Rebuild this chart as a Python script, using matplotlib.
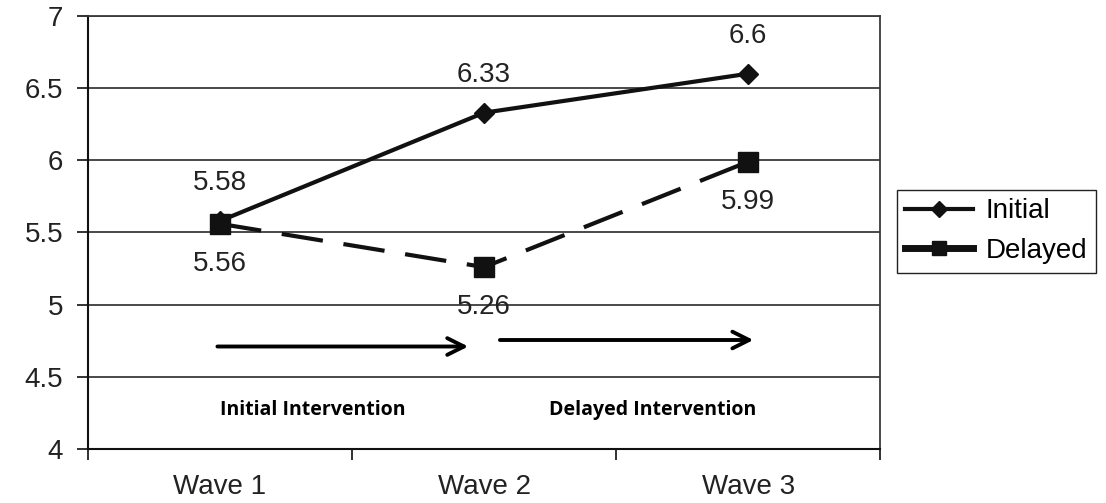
import matplotlib.pyplot as plt
from matplotlib.lines import Line2D

# Chart data
waves = ["Wave 1", "Wave 2", "Wave 3"]
initial = [5.58, 6.33, 6.6]
delayed = [5.56, 5.26, 5.99]
y_ticks = [4, 4.5, 5, 5.5, 6, 6.5, 7]
y_tick_labels = ["4", "4.5", "5", "5.5", "6", "6.5", "7"]
phase_labels = ["Initial Intervention", "Delayed Intervention"]

plt.rcParams['font.family'] = ['Liberation Sans', 'DejaVu Sans']

fig = plt.figure(figsize=(11.06, 5.03), dpi=100)
ax = fig.add_axes([0.0796, 0.1074, 0.7162, 0.8608])

x = list(range(len(waves)))

# Horizontal gridlines
ax.set_ylim(4, 7)
ax.set_xlim(-0.5, 2.5)
ax.set_yticks(y_ticks)
ax.set_yticklabels(y_tick_labels)
ax.yaxis.grid(True, color='#3a3a3a', linewidth=1.3)
ax.set_axisbelow(True)

# Lines
ax.plot(x, initial, color='#111111', linewidth=3, marker='D', markersize=10,
        label='Initial', zorder=3)
ax.plot(x, delayed, color='#111111', linewidth=3, linestyle=(0, (10, 5)),
        marker='s', markersize=14, label='Delayed', zorder=4)

# Value labels
for xi, v in zip(x, initial):
    ax.annotate(f"{v:g}", (xi, v), xytext=(0, 27), textcoords='offset points',
                ha='center', va='center', fontsize=20, color='#222222')
for xi, v in zip(x, delayed):
    ax.annotate(f"{v:g}", (xi, v), xytext=(0, -29), textcoords='offset points',
                ha='center', va='center', fontsize=20, color='#222222')

# Intervention arrows
ax.annotate("", xy=(0.94, 4.71), xytext=(-0.01, 4.71),
            arrowprops=dict(arrowstyle='->', color='black', lw=2.8,
                            mutation_scale=30, shrinkA=0, shrinkB=0))
ax.annotate("", xy=(2.02, 4.755), xytext=(1.06, 4.755),
            arrowprops=dict(arrowstyle='->', color='black', lw=2.8,
                            mutation_scale=30, shrinkA=0, shrinkB=0))
ax.text(0.35, 4.27, phase_labels[0], ha='center', va='center', fontsize=14,
        fontweight='bold', family=['Open Sans', 'DejaVu Sans'])
ax.text(1.64, 4.27, phase_labels[1], ha='center', va='center', fontsize=14,
        fontweight='bold', family=['Open Sans', 'DejaVu Sans'])

# Axes styling
ax.set_xticks([-0.5, 0.5, 1.5, 2.5])
ax.set_xticklabels([])
ax.set_xticks(x, minor=True)
ax.set_xticklabels(waves, minor=True, fontsize=20, color='#222222')
ax.tick_params(axis='x', which='minor', length=0, pad=18)
ax.tick_params(axis='x', which='major', length=8, width=1.3, direction='out', color='#222222')
ax.tick_params(axis='y', length=8, width=1.3, direction='out', labelsize=20,
               color='#222222', labelcolor='#222222', pad=10)
for side in ['left', 'bottom']:
    ax.spines[side].set_color('#111111')
    ax.spines[side].set_linewidth(1.5)
for side in ['top', 'right']:
    ax.spines[side].set_color('#3a3a3a')
    ax.spines[side].set_linewidth(1.3)

# Legend (partly cut off at the right edge, as in the reference)
handles = [
    Line2D([], [], color='#111111', linewidth=3, marker='D', markersize=8),
    Line2D([], [], color='#111111', linewidth=5, marker='s', markersize=10),
]
fig.legend(handles, ['Initial', 'Delayed'], loc='upper left',
           bbox_to_anchor=(897 / 1106, 1 - 190 / 503), fontsize=20,
           frameon=True, fancybox=False, edgecolor='#222222', framealpha=1,
           handlelength=2.45, handletextpad=0.45, borderpad=0.3, labelspacing=0.5,
           borderaxespad=0)

fig.savefig("out.png", dpi=100)
